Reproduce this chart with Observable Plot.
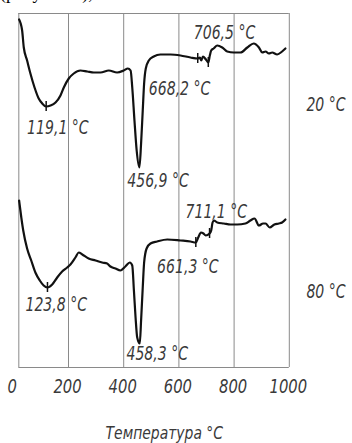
<!DOCTYPE html>
<html><head><meta charset="utf-8">
<script src="https://cdn.jsdelivr.net/npm/d3@7"></script>
<script src="https://cdn.jsdelivr.net/npm/@observablehq/plot@0.6"></script>
<style>
body{margin:0;background:#fff;position:relative;width:352px;height:443px;overflow:hidden}
#hdr{position:absolute;left:0;top:-16px;font:18px/18px "Liberation Serif",serif;color:#000;white-space:nowrap}
#chart{position:absolute;left:0;top:0}
</style></head><body>
<div id="hdr">(рисунок 3),</div>
<div id="chart"></div>
<script>
// DTA curve, sample dried at 20 °C (temperature °C, signal in arbitrary units)
const temp20 = [21,32,38,50,62,77,92,105,119.1,135,153,171,183,201,219,243,268,292,316,346,376,400,415,425,431,439,447,456.9,463,469,474,480,491,509,533,570,606,642,668.2,676,681,687,698,706.5,712,717,726,739,757,775,799,823,848,871,890,902,914,926,938,956,974,986];
const sig20  = [348,337,320,307,294,280,269,264,261,262,265,272,280,289,294,297,296,295,295,297,295,297,299,297,280,247,217,200,224,257,284,299,307,311,313,313,312,310,309,310,307,311,308,305,312,317,319,322,320,316,315,315,320,324,320,315,316,314,315,313,316,319];
// DTA curve, sample dried at 80 °C
const temp80 = [21,29,36,50,65,80,96,110,123.8,141,159,177,195,207,225,237,250,273,298,322,340,352,370,388,406,422,431,437,443,449,458.3,463,469,474,483,497,521,558,606,642,661.3,670,680,689,697,711.1,717,722,727,739,763,787,811,841,859,874,890,905,914,929,946,962,974,986];
const sig80  = [167,150,137,119,107,95,87,82,80,83,90,96,100,103,110,115,113,109,107,105,104,101,99,97,101,105,102,77,50,30,24,47,80,105,119,124,126,128,127,126,125,130,135,134,132,134,137,145,147,145,144,143,143,144,147,149,142,144,144,140,143,144,145,148];

// marked peaks (ticks on curve)
const peakTemp = [119.1, 668.2, 706.5, 123.8, 661.3, 711.1];
const peakSig  = [261, 309, 305, 80, 125, 134];

// annotation texts and their anchor points (data space)
const labelText = ["119,1 °C","456,9 °C","668,2 °C","706,5 °C","123,8 °C","458,3 °C","661,3 °C","711,1 °C","20 °C","80 °C"];
const labelTemp = [50, 413, 491, 654, 44, 410, 521, 624, 1062, 1062];
const labelSig  = [239.5, 187, 279, 335, 63, 14, 101, 156, 262.5, 76];

const xTicks = [0, 200, 400, 600, 800, 1000];
const gridTemps = [20, 200, 400, 600, 800, 1000];
const axisTitle = "Температура °C";

const rows = [
  ...temp20.map((t, i) => ({t, v: sig20[i], run: "20"})),
  ...temp80.map((t, i) => ({t, v: sig80[i], run: "80"}))
];
const peaks = peakTemp.map((t, i) => ({t, v: peakSig[i]}));
const labels = labelText.map((s, i) => ({s, t: labelTemp[i], v: labelSig[i]}));

const font = '"DejaVu Sans",sans-serif';

const chart = Plot.plot({
  width: 352,
  height: 443,
  marginTop: 13,
  marginBottom: 76,
  marginLeft: 12.8,
  marginRight: 63.2,
  x: {domain: [0, 1000], axis: null},
  y: {domain: [0, 354], axis: null},
  marks: [
    Plot.ruleX(gridTemps, {y1: 0, y2: 354, stroke: "#8a8a8a", strokeWidth: 1}),
    Plot.ruleY([0, 354], {x1: 20, x2: 1000, stroke: "#8a8a8a", strokeWidth: 1}),
    Plot.line(rows, {x: "t", y: "v", z: "run", stroke: "#111", strokeWidth: 2.2, curve: "monotone-x"}),
    Plot.ruleX(peaks, {x: "t", y1: d => d.v - 5, y2: d => d.v + 5, stroke: "#111", strokeWidth: 1.5}),
    Plot.text(labels, {x: "t", y: "v", text: "s", textAnchor: "start", lineAnchor: "middle",
      fontSize: 19, fontStyle: "italic", fontFamily: font, fill: "#3a3a3a", className: "squeeze"}),
    Plot.axisX(xTicks, {tickSize: 0, tickPadding: 11, tickFormat: d => String(d), label: null,
      fontSize: 20, fontStyle: "italic", fontFamily: font, fill: "#3a3a3a", dx: -1, className: "squeeze"}),
    Plot.text([axisTitle], {frameAnchor: "bottom", dx: 13, dy: 71, fontSize: 17,
      fontStyle: "italic", fontFamily: font, fill: "#3a3a3a", className: "squeeze2"})
  ]
});
// condensed (GOST-like) lettering: compress glyphs horizontally around each text anchor
chart.querySelectorAll(".squeeze text").forEach(el => {
  const tr = el.getAttribute("transform") || "";
  el.setAttribute("transform", tr + " scale(0.74,1)");
});
chart.querySelectorAll(".squeeze2 text").forEach(el => {
  const tr = el.getAttribute("transform") || "";
  el.setAttribute("transform", tr + " scale(0.82,1)");
});
document.getElementById("chart").append(chart);
</script></body></html>
